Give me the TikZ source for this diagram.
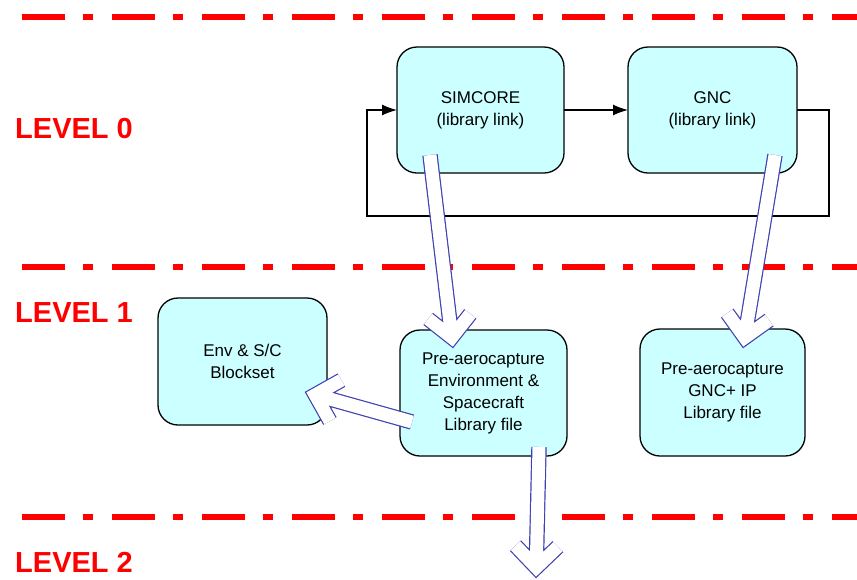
\documentclass[tikz,border=0pt]{standalone}
\usepackage{fontspec}
\setmainfont{Liberation Sans}
\usetikzlibrary{arrows.meta, calc}
\definecolor{boxcyan}{RGB}{204,255,255}
\definecolor{fatblue}{RGB}{64,64,176}

% hollow fat arrow from tail to tip
\newcommand{\fatarrow}[2]{%
  \draw[fat] let \p1=(#1), \p2=(#2), \n1={atan2(\y2-\y1,\x2-\x1)} in
    (#1) -- ($(#2)+(\n1+180:10.6pt)$)
    ($(#2)+(\n1+180:10.6pt)+(\n1+135:30pt)$) -- ($(#2)+(\n1+180:10.6pt)$)
      -- ($(#2)+(\n1+180:10.6pt)+(\n1-135:30pt)$);}

\begin{document}
\begin{tikzpicture}[x=1pt, y=-1pt,
  block/.style={draw=black, line width=1.3pt, fill=boxcyan, rounded corners=20pt,
    align=center, inner sep=0pt, outer sep=0pt, font=\fontsize{17}{22}\selectfont},
  levelline/.style={red, line width=6pt, dash pattern=on 43pt off 18pt on 10pt off 19pt},
  levelname/.style={anchor=base west, text=red, inner sep=0pt,
    font=\fontsize{29}{34}\selectfont\bfseries},
  flow/.style={-{Latex[length=15pt, width=11pt]}, line width=1.3pt, black},
  fat/.style={draw=fatblue, line width=1.2pt, double=white, double distance=13pt,
    line join=miter, line cap=butt}
]
  \useasboundingbox (0,0) rectangle (857,579);

  % level separators
  \draw[levelline] (22,17) -- (857,17);
  \draw[levelline] (22,267) -- (857,267);
  \draw[levelline] (22,517) -- (857,517);

  \node[levelname] (lv0) at (15,138) {LEVEL 0};
  \node[levelname] (lv1) at (15,322) {LEVEL 1};
  \node[levelname] (lv2) at (15,572) {LEVEL 2};

  % blocks
  \node[block, minimum width=167pt, minimum height=126pt] (simcore) at (480.5,110)
    {SIMCORE\\(library link)};
  \node[block, minimum width=169pt, minimum height=126pt] (gnc) at (712.5,110)
    {GNC\\(library link)};
  \node[block, minimum width=169pt, minimum height=127pt] (envsc) at (242.5,361.5)
    {Env \& S/C\\Blockset};
  \node[block, minimum width=167pt, minimum height=126pt] (preenv) at (483.5,393)
    {Pre-aerocapture\\Environment \&\\Spacecraft\\Library file};
  \node[block, minimum width=165pt, minimum height=127pt] (pregnc) at (722.5,392.5)
    {Pre-aerocapture\\GNC+ IP\\Library file};

  % simulation loop
  \draw[flow] (simcore.east) -- (gnc.west);
  \draw[flow] (gnc.east) -- ++(32,0) -- ++(0,106) -| ($(simcore.west)+(-30,0)$)
    -- (simcore.west);

  % library links
  \coordinate (s1) at (430,155);
  \coordinate (e1) at (453,348);
  \coordinate (s2) at (775,155);
  \coordinate (e2) at (743,348);
  \coordinate (s3) at (412,422);
  \coordinate (e3) at (305,392);
  \coordinate (s4) at (539,447);
  \coordinate (e4) at (536,578);
  \fatarrow{s1}{e1}
  \fatarrow{s2}{e2}
  \fatarrow{s3}{e3}
  \fatarrow{s4}{e4}
\end{tikzpicture}
\end{document}
